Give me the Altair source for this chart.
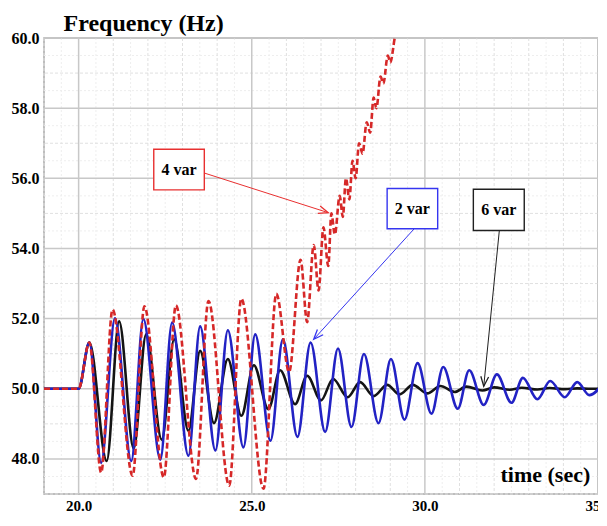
import math
import altair as alt
import pandas as pd

# ---------------- data ----------------
blue_t = [19.0, 20.0, 20.31, 20.65, 21.05, 21.52, 21.87, 22.36, 22.70, 23.17, 23.51, 23.95, 24.31, 24.76,
          25.10, 25.54, 25.90, 26.32, 26.70, 27.12, 27.49, 27.88, 28.24, 28.66, 29.02, 29.41, 29.79, 30.19,
          30.53, 30.95, 31.28, 31.70, 32.08, 32.50, 32.83, 33.25, 33.62, 34.04, 34.40, 34.75, 35.15]
blue_f = [50.0, 50.0, 51.32, 47.89, 52.01, 47.94, 51.99, 47.98, 51.89, 48.09, 51.78, 48.24, 51.67, 48.33,
          51.55, 48.52, 51.41, 48.63, 51.32, 48.77, 51.15, 48.91, 50.99, 49.02, 50.85, 49.12, 50.73, 49.29,
          50.62, 49.43, 50.53, 49.54, 50.41, 49.60, 50.31, 49.70, 50.22, 49.76, 50.19, 49.82, 50.15]

black_t = [19.0, 20.0, 20.31, 20.81, 21.17, 21.59, 21.95, 22.40, 22.76, 23.17, 23.51, 23.91, 24.31, 24.70,
           25.06, 25.48, 25.82, 26.25, 26.60, 27.00, 27.35, 27.77, 28.13, 28.52, 28.91, 29.27, 29.65, 30.07,
           30.45, 30.86, 31.20, 31.66, 32.00, 32.45, 32.80, 33.25, 33.60, 34.05, 34.40, 34.80, 35.15]
black_f = [50.0, 50.0, 51.32, 47.94, 51.92, 48.30, 51.55, 48.55, 51.41, 48.80, 51.08, 49.02, 50.85, 49.23,
           50.67, 49.42, 50.53, 49.56, 50.37, 49.67, 50.28, 49.76, 50.19, 49.79, 50.11, 49.84, 50.11, 49.87,
           50.08, 49.91, 50.06, 49.95, 50.04, 49.97, 50.03, 49.98, 50.02, 49.99, 50.01, 50.0, 50.0]

red_t = [19.0, 20.0, 20.31, 20.65, 20.98, 21.56, 21.90, 22.46, 22.81, 23.39, 23.75, 24.35, 24.70, 25.34,
         25.71, 26.08, 26.41, 26.60, 26.79, 26.93, 27.07, 27.21, 27.30, 27.40, 27.54, 27.63, 27.72, 27.82,
         27.91, 28.00, 28.10, 28.20, 28.32, 28.42, 28.52, 28.60, 28.72, 28.80, 28.93, 29.00, 29.13, 29.25]
red_f = [50.0, 50.0, 51.32, 47.61, 52.26, 47.52, 52.35, 47.47, 52.38, 47.43, 52.50, 47.24, 52.57, 47.15,
         52.71, 50.48, 53.68, 51.90, 54.10, 52.80, 54.60, 53.50, 55.00, 54.40, 55.50, 54.90, 56.00, 55.40,
         56.50, 56.00, 57.00, 56.70, 57.60, 57.30, 58.30, 58.00, 58.90, 58.70, 59.50, 59.30, 60.00, 60.50]

x_ticks = [20, 25, 30, 35]
y_ticks = [48, 50, 52, 54, 56, 58, 60]

ann_label = ["4 var", "2 var", "6 var"]
ann_color = ["#e83030", "#3535f0", "#202020"]
box_t1 = [22.17, 28.91, 31.40]
box_t2 = [23.63, 30.37, 32.87]
box_f1 = [55.67, 54.56, 54.51]
box_f2 = [56.83, 55.71, 55.69]
arrow_t1 = [23.63, 29.69, 32.15]
arrow_f1 = [56.15, 54.56, 54.51]
arrow_t2 = [27.21, 26.79, 31.70]
arrow_f2 = [55.02, 51.41, 50.07]

# ---------------- layout ----------------
X0, X1 = 19.0, 35.0
Y0, Y1 = 47.0, 60.0
W, H = 554, 456
px_x = W / (X1 - X0)
px_y = H / (Y1 - Y0)
serif = "Liberation Serif"

xs = alt.Scale(domain=[X0, X1], nice=False, zero=False)
ys = alt.Scale(domain=[Y0, Y1], nice=False, zero=False)

xaxis = alt.Axis(values=x_ticks, format=".1f", grid=False, ticks=False, domain=False,
                 labelFont=serif, labelFontSize=15, labelFontWeight="bold", labelColor="black",
                 labelPadding=4, labelFlush=False, zindex=1,
                 title="time (sec)", titleFont=serif, titleFontSize=22, titleFontWeight="bold",
                 titleColor="black", titleX=456, titleY=-13, titleAlign="left",
                 titleBaseline="alphabetic")
yaxis = alt.Axis(values=y_ticks, format=".1f", grid=False, ticks=False, domain=False,
                 labelFont=serif, labelFontSize=16, labelFontWeight="bold", labelColor="black",
                 labelPadding=5, labelFlush=False,
                 title="Frequency (Hz)", titleFont=serif, titleFontSize=24, titleFontWeight="bold",
                 titleColor="black", titleAngle=0, titleX=19, titleY=-8, titleAlign="left",
                 titleBaseline="alphabetic")


def X(field):
    return alt.X(field, type="quantitative", scale=xs, axis=xaxis)


def Y(field):
    return alt.Y(field, type="quantitative", scale=ys, axis=yaxis)


# ---------------- grid ----------------
half_x = [X0 + 0.5 * i for i in range(int((X1 - X0) * 2) + 1)]
half_y = [Y0 + 0.5 * i for i in range(int((Y1 - Y0) * 2) + 1)]
minor_x = [v for v in half_x if abs(v - round(v)) > 0.01]
mid_x = [v for v in half_x if abs(v - round(v)) < 0.01 and round(v) % 5 != 0]
major_x = [v for v in half_x if abs(v - round(v)) < 0.01 and round(v) % 5 == 0]
minor_y = [v for v in half_y if abs(v - round(v)) > 0.01]
mid_y = [v for v in half_y if abs(v - round(v)) < 0.01 and round(v) % 2 != 0]
major_y = [v for v in half_y if abs(v - round(v)) < 0.01 and round(v) % 2 == 0]


def vgrid(vals, **kw):
    return alt.Chart(pd.DataFrame({"t": vals})).mark_rule(**kw).encode(x=X("t"))


def hgrid(vals, **kw):
    return alt.Chart(pd.DataFrame({"f": vals})).mark_rule(**kw).encode(y=Y("f"))


grid = [
    vgrid(minor_x, color="#eeeeee", strokeDash=[2, 2], strokeWidth=1),
    hgrid(minor_y, color="#eeeeee", strokeDash=[2, 2], strokeWidth=1),
    vgrid(mid_x, color="#e0e0e0", strokeDash=[3, 2], strokeWidth=1),
    hgrid(mid_y, color="#e0e0e0", strokeDash=[3, 2], strokeWidth=1),
    vgrid(major_x, color="#c8c8c8", strokeWidth=1.5),
    hgrid(major_y, color="#c8c8c8", strokeWidth=1.5),
]


# ---------------- lines ----------------
def line(ts, fs, color, dash=None):
    kw = dict(color=color, strokeWidth=2.6, interpolate="monotone", clip=True)
    if dash:
        kw["strokeDash"] = dash
    return alt.Chart(pd.DataFrame({"t": ts, "f": fs})).mark_line(**kw).encode(x=X("t"), y=Y("f"))


black_line = line(black_t, black_f, "#141414")
blue_line = line(blue_t, blue_f, "#2222c4")
red_line = line(red_t, red_f, "#d62828", dash=[6, 3])

# ---------------- annotations ----------------
angles = []
for a, b, c, d in zip(arrow_t1, arrow_f1, arrow_t2, arrow_f2):
    dx = (c - a) * px_x
    dy = -(d - b) * px_y
    angles.append(math.degrees(math.atan2(dx, -dy)) % 360)

ann = pd.DataFrame({
    "label": ann_label, "color": ann_color,
    "t1": box_t1, "t2": box_t2, "f1": box_f1, "f2": box_f2,
    "tc": [(a + b) / 2 for a, b in zip(box_t1, box_t2)],
    "fc": [(a + b) / 2 for a, b in zip(box_f1, box_f2)],
    "at1": arrow_t1, "af1": arrow_f1, "at2": arrow_t2, "af2": arrow_f2,
    "angle": angles,
})
base = alt.Chart(ann)
arrows = base.mark_rule(strokeWidth=1).encode(
    x=X("at1"), y=Y("af1"), x2="at2:Q", y2="af2:Q", color=alt.Color("color:N", scale=None))
heads = base.mark_point(shape="M -0.4 1 L 0 0 L 0.4 1", filled=False, size=380, strokeWidth=1.3,
                        opacity=1).encode(
    x=X("at2"), y=Y("af2"), angle=alt.Angle("angle:Q", scale=None),
    color=alt.Color("color:N", scale=None))
boxes = base.mark_rect(fill="white", strokeWidth=1.4).encode(
    x=X("t1"), x2="t2:Q", y=Y("f1"), y2="f2:Q", stroke=alt.Color("color:N", scale=None))
texts = base.mark_text(font=serif, fontSize=16, fontWeight="bold", color="black",
                       baseline="middle", align="center").encode(
    x=X("tc"), y=Y("fc"), text="label:N")

chart = alt.layer(*grid, black_line, blue_line, red_line, arrows, heads, boxes, texts).properties(
    width=W, height=H,
    autosize=alt.AutoSizeParams(type="none"),
    padding={"left": 36, "top": 30, "right": 0, "bottom": 20},
).configure_view(stroke="#a8a8a8", strokeWidth=1.5)

chart.save("out.html", embed_options={"renderer": "svg", "actions": False})
